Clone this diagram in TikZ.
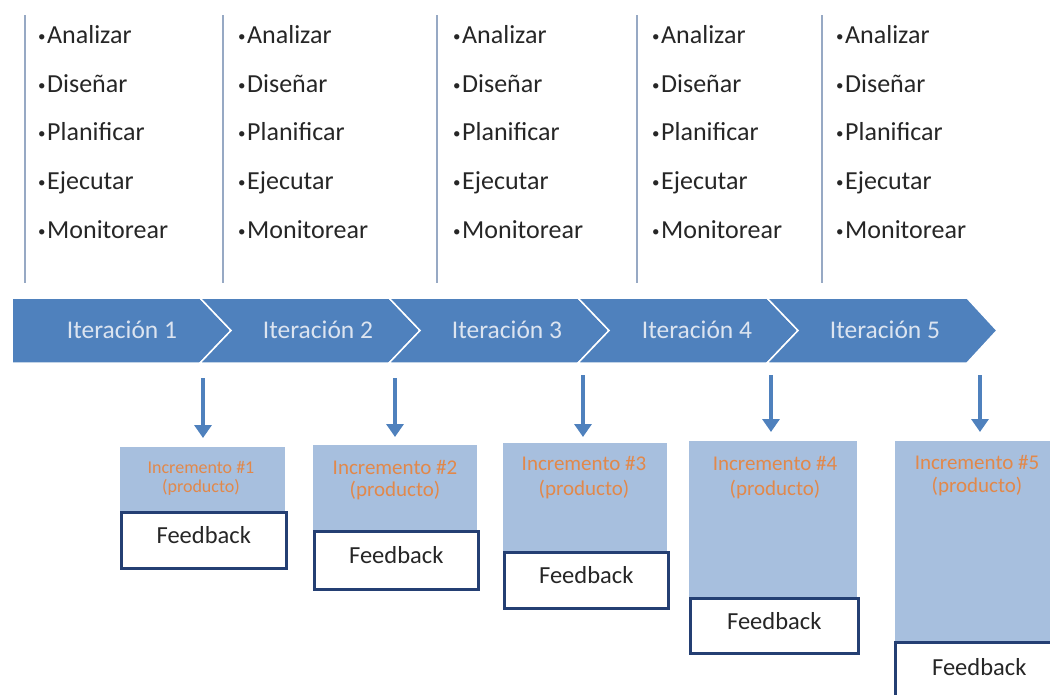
\documentclass[tikz,border=0pt]{standalone}
\usepackage{fontspec}
\setmainfont{Carlito}
\usetikzlibrary{arrows.meta}
\definecolor{chev}{HTML}{4F81BD}
\definecolor{incfill}{HTML}{A7BFDE}
\definecolor{incorange}{HTML}{E2884A}
\definecolor{fbline}{HTML}{243F73}
\definecolor{vline}{HTML}{97A9C4}
\definecolor{itertext}{HTML}{DCE4F0}
\definecolor{txt}{HTML}{262626}
\newcommand{\mybul}{\raisebox{2pt}{\fontsize{15}{15}\selectfont •}\hspace{1.5pt}}
\begin{document}
\begin{tikzpicture}[x=1pt,y=-1pt,
 chevshape/.style={fill=chev,draw=white,line width=1.5pt,line join=miter},
 itertxt/.style={inner sep=0pt,text=itertext,font=\fontsize{25.5}{28}\selectfont},
 itemtext/.style={anchor=base west,inner sep=0pt,text=txt,font=\fontsize{26}{28}\selectfont},
 vl/.style={draw=vline,line width=1.6pt},
 incbox/.style={fill=incfill,draw=none,inner sep=0pt,outer sep=0pt,anchor=north west},
 inctext/.style={inner sep=0pt,text=incorange},
 fbbox/.style={fill=white,draw=fbline,line width=2.5pt,inner sep=0pt,anchor=north west,
   text=txt,font=\fontsize{24.5}{28}\selectfont,text depth=10pt},
 arr/.style={draw=chev,line width=3.5pt,-{Triangle[width=17pt,length=13pt]}}]
\useasboundingbox (0,0) rectangle (1050,694);

% chevrons
\draw[chevshape] (12,298) -- (200,298) -- (231,330.5) -- (200,363) -- (12,363) -- cycle;
\draw[chevshape] (200,298) -- (389,298) -- (420,330.5) -- (389,363) -- (200,363) -- (231,330.5) -- cycle;
\draw[chevshape] (389,298) -- (578,298) -- (609,330.5) -- (578,363) -- (389,363) -- (420,330.5) -- cycle;
\draw[chevshape] (578,298) -- (767,298) -- (798,330.5) -- (767,363) -- (578,363) -- (609,330.5) -- cycle;
\draw[chevshape] (767,298) -- (967,298) -- (997,330.5) -- (967,363) -- (767,363) -- (798,330.5) -- cycle;

\node[itertxt] (it1) at (122,330) {Iteración 1};
\node[itertxt] (it2) at (318,330) {Iteración 2};
\node[itertxt] (it3) at (507,330) {Iteración 3};
\node[itertxt] (it4) at (697,330) {Iteración 4};
\node[itertxt] (it5) at (885,330) {Iteración 5};

% columns
\foreach \lx in {25,223,437,637,822} {\draw[vl] (\lx,15) -- (\lx,283);}
\foreach \cx/\c in {38/1,238/2,453/3,652/4,836/5} {
  \foreach \w/\yy/\r in {Analizar/43/a,Diseñar/92/b,Planificar/140/c,Ejecutar/189/d,Monitorear/238/e} {
    \node[itemtext] (c\c\r) at (\cx,\yy) {\mybul\w};
  }
}

% increment boxes
\node[incbox,minimum width=165,minimum height=66] (inc1) at (120,447) {};
\node[incbox,minimum width=164,minimum height=87] (inc2) at (313,445) {};
\node[incbox,minimum width=164,minimum height=110] (inc3) at (503,443) {};
\node[incbox,minimum width=168,minimum height=158] (inc4) at (689,441) {};
\node[incbox,minimum width=165,minimum height=202] (inc5) at (895,441) {};

\node[inctext,font=\fontsize{18}{20}\selectfont] (i1a) at (201,467) {Incremento \#1};
\node[inctext,font=\fontsize{18}{20}\selectfont] (i1b) at (201,487) {(producto)};
\node[inctext,font=\fontsize{21}{24}\selectfont] (i2a) at (395,467) {Incremento \#2};
\node[inctext,font=\fontsize{21}{24}\selectfont] (i2b) at (395,491) {(producto)};
\node[inctext,font=\fontsize{21}{24}\selectfont] (i3a) at (584,463) {Incremento \#3};
\node[inctext,font=\fontsize{21}{24}\selectfont] (i3b) at (584,490) {(producto)};
\node[inctext,font=\fontsize{21}{24}\selectfont] (i4a) at (775,463) {Incremento \#4};
\node[inctext,font=\fontsize{21}{24}\selectfont] (i4b) at (775,490) {(producto)};
\node[inctext,font=\fontsize{21}{24}\selectfont] (i5a) at (977,462) {Incremento \#5};
\node[inctext,font=\fontsize{21}{24}\selectfont] (i5b) at (977,487) {(producto)};

% feedback boxes
\node[fbbox,minimum width=165,minimum height=56] (fb1) at (120,511) {Feedback};
\node[fbbox,minimum width=164,minimum height=58] (fb2) at (313,530) {Feedback};
\node[fbbox,minimum width=164,minimum height=56] (fb3) at (503,551) {Feedback};
\node[fbbox,minimum width=168,minimum height=55] (fb4) at (689,597) {Feedback};
\node[fbbox,minimum width=168,minimum height=60] (fb5) at (894,641) {Feedback};

% arrows
\coordinate (s1) at (203,378);
\coordinate (s2) at (395,378);
\coordinate (s3) at (583,375);
\coordinate (s4) at (771,375);
\coordinate (s5) at (980,375);
\draw[arr,shorten >=9pt] (s1) -- (s1 |- inc1.north);
\draw[arr,shorten >=8pt] (s2) -- (s2 |- inc2.north);
\draw[arr,shorten >=6pt] (s3) -- (s3 |- inc3.north);
\draw[arr,shorten >=9pt] (s4) -- (s4 |- inc4.north);
\draw[arr,shorten >=9pt] (s5) -- (s5 |- inc5.north);
\end{tikzpicture}
\end{document}
